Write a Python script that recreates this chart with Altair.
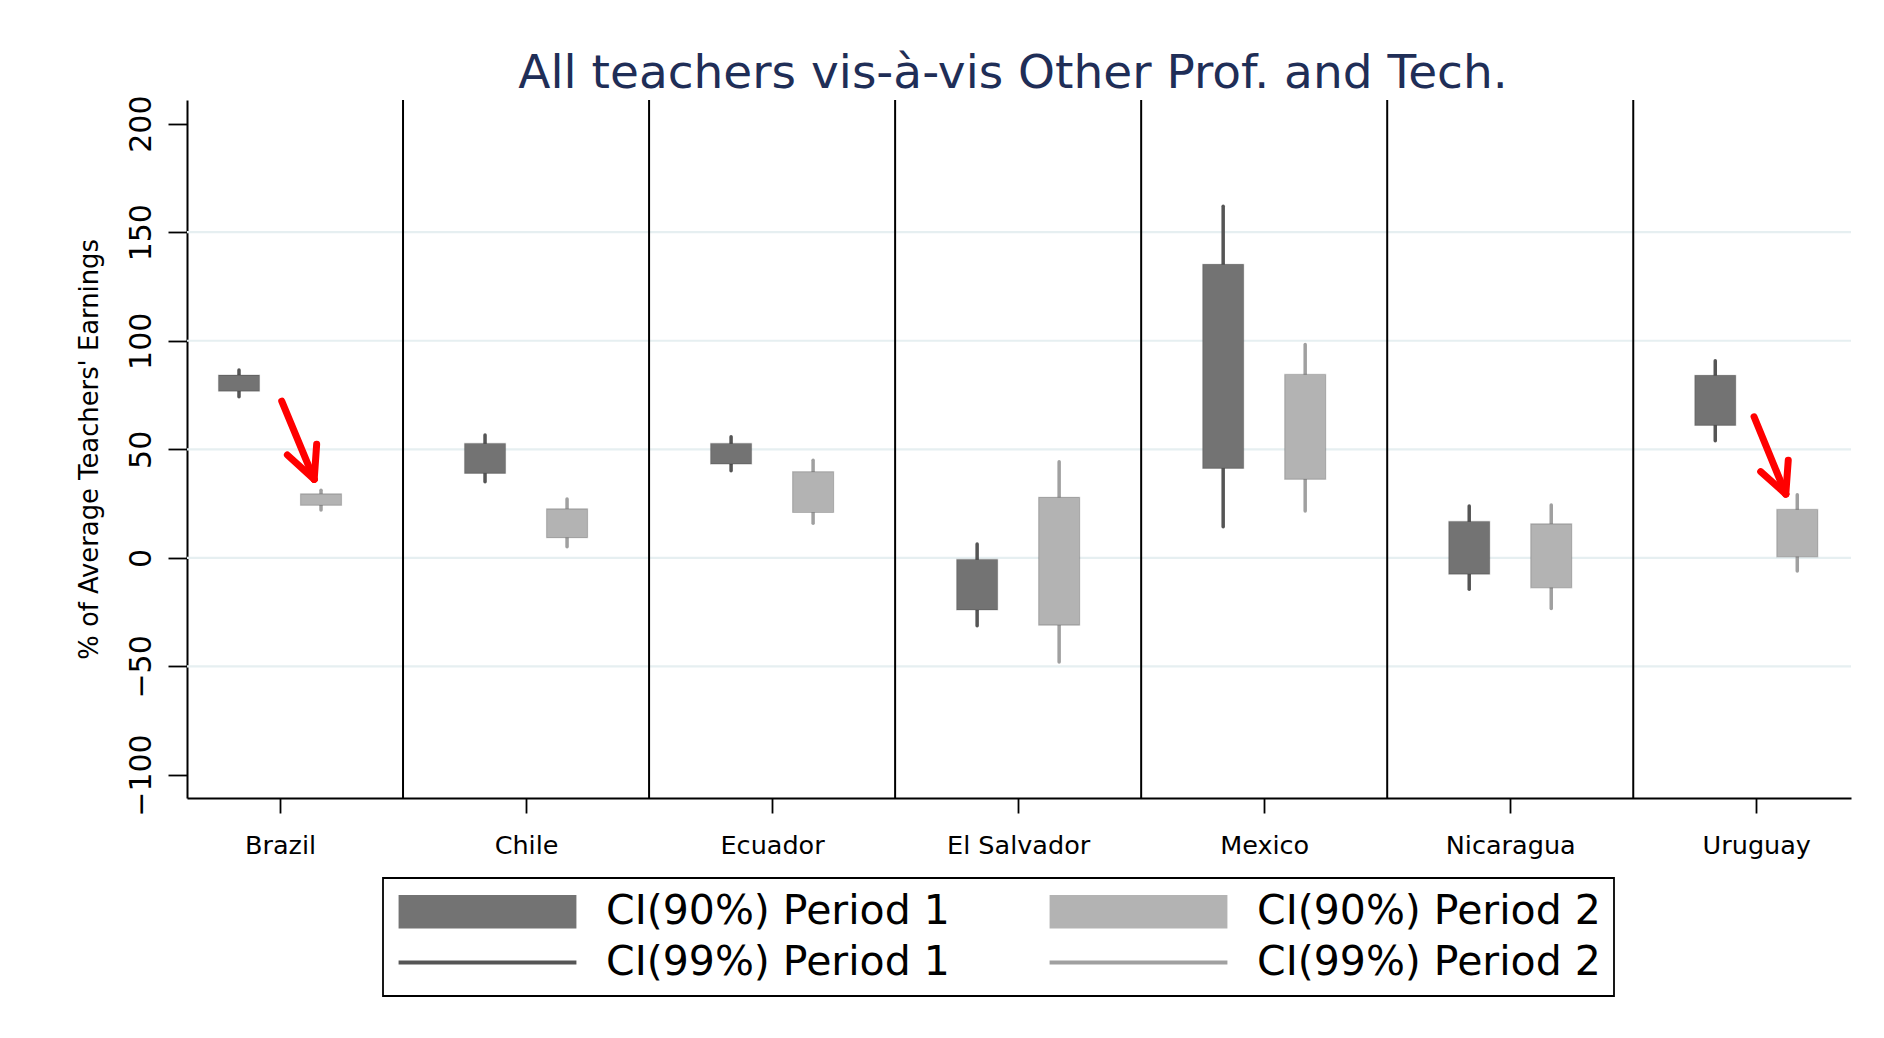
import altair as alt
import pandas as pd

# ---------------- data ----------------
COUNTRIES = ["Brazil", "Chile", "Ecuador", "El Salvador", "Mexico", "Nicaragua", "Uruguay"]

# Period 1 confidence intervals
P1_LO99 = [74.2, 35.1, 40.1, -31.3, 14.3, -14.5, 53.9]
P1_LO90 = [76.8, 38.9, 43.2, -24.0, 41.2, -7.5, 61.0]
P1_HI90 = [84.2, 52.7, 52.7, -0.7, 135.2, 16.8, 84.1]
P1_HI99 = [86.5, 56.6, 55.8, 6.4, 162.0, 23.9, 90.8]

# Period 2 confidence intervals
P2_LO99 = [22.0, 5.1, 15.9, -48.0, 21.6, -23.3, -6.1]
P2_LO90 = [24.2, 9.3, 20.9, -31.0, 36.2, -13.8, 0.5]
P2_HI90 = [29.5, 22.6, 39.7, 27.9, 84.5, 15.7, 22.3]
P2_HI99 = [31.2, 27.1, 45.0, 44.3, 98.3, 24.3, 29.1]

SERIES = ["CI(90%) Period 1", "CI(90%) Period 2", "CI(99%) Period 1", "CI(99%) Period 2"]
Y_TICKS = [-100, -50, 0, 50, 100, 150, 200]
GRID_VALUES = [-50, 0, 50, 100, 150]

# red annotation arrows (data coordinates): shaft start, tip, two wing ends
ARROW_START_X = [1.007, 6.991]
ARROW_START_Y = [72.2, 65.0]
ARROW_TIP_X = [1.139, 7.120]
ARROW_TIP_Y = [36.2, 29.4]
ARROW_WING1_X = [1.030, 7.018]
ARROW_WING1_Y = [47.4, 39.7]
ARROW_WING2_X = [1.149, 7.130]
ARROW_WING2_Y = [52.3, 45.0]

# ---------------- styling ----------------
FONT = "DejaVu Sans"
COLORS = ["#737373", "#b3b3b3", "#555555", "#a0a0a0"]
# legend swatches: symbol size 36x36 nominal, paths drawn wider than the unit box
SYM_SIDE = 36
RECT_PATH = "M-4.94,-0.93L4.94,-0.93L4.94,0.93L-4.94,0.93Z"
LINE_PATH = "M-4.94,-0.11L4.94,-0.11L4.94,0.11L-4.94,0.11Z"
SHAPES = [RECT_PATH, RECT_PATH, LINE_PATH, LINE_PATH]
SWATCH_W = 178
OFFSET = 1 / 6
HALF_W = 1 / 12

# ---------------- tables ----------------
rows = []
for i, c in enumerate(COUNTRIES):
    pos = i + 1
    for per, off, lo99, lo90, hi90, hi99 in [
        ("1", -OFFSET, P1_LO99[i], P1_LO90[i], P1_HI90[i], P1_HI99[i]),
        ("2", OFFSET, P2_LO99[i], P2_LO90[i], P2_HI90[i], P2_HI99[i]),
    ]:
        rows.append(dict(country=c, period=per, xc=pos + off,
                         x1=pos + off - HALF_W, x2=pos + off + HALF_W,
                         lo99=lo99, lo90=lo90, hi90=hi90, hi99=hi99,
                         s90=f"CI(90%) Period {per}", s99=f"CI(99%) Period {per}"))
box_df = pd.DataFrame(rows)

sep_df = pd.DataFrame({"s": [k + 0.5 for k in range(1, len(COUNTRIES))]})
grid_df = pd.DataFrame({"g": GRID_VALUES})

arrow_rows = []
for k in range(len(ARROW_TIP_X)):
    tx, ty = ARROW_TIP_X[k], ARROW_TIP_Y[k]
    for sx, sy in [(ARROW_START_X[k], ARROW_START_Y[k]),
                   (ARROW_WING1_X[k], ARROW_WING1_Y[k]),
                   (ARROW_WING2_X[k], ARROW_WING2_Y[k])]:
        arrow_rows.append(dict(x=sx, y=sy, x2=tx, y2=ty))
arrow_df = pd.DataFrame(arrow_rows)

# long table: one row per interval, used only to feed the legend
legend_df = pd.concat([
    box_df[["xc", "lo90", "s90"]].rename(columns={"lo90": "v", "s90": "series"}),
    box_df[["xc", "lo99", "s99"]].rename(columns={"lo99": "v", "s99": "series"}),
], ignore_index=True)

# ---------------- scales / axes ----------------
xscale = alt.Scale(domain=[0.622, 7.385], nice=False, zero=False)
yscale = alt.Scale(domain=[-110.6, 210.9], nice=False, zero=False)
color_scale = alt.Scale(domain=SERIES, range=COLORS)
fill_scale = alt.Scale(domain=SERIES[:2], range=COLORS[:2])
stroke_scale = alt.Scale(domain=SERIES[2:], range=COLORS[2:])

label_expr = "[" + ",".join("'" + c + "'" for c in COUNTRIES) + "][datum.value - 1]"

xaxis = alt.Axis(values=list(range(1, len(COUNTRIES) + 1)), labelExpr=label_expr,
                 title=None, tickSize=15, labelPadding=40, labelBaseline="alphabetic",
                 labelFontSize=25.5, labelFlush=False, labelOverlap=False, grid=False)

yaxis = alt.Axis(values=Y_TICKS, title="% of Average Teachers' Earnings",
                 labelAngle=270, labelAlign="center", labelBaseline="alphabetic",
                 labelPadding=18, tickSize=19, labelFontSize=30,
                 titleFont=FONT, titleFontSize=25.8, titleFontWeight="normal",
                 titleAngle=270, titleAlign="center", titleBaseline="alphabetic",
                 titleX=-90, titleY=349, grid=False, labelFlush=False, labelOverlap=False)

sym_shift = (SWATCH_W - SYM_SIDE) / 2
leg = alt.Legend(title=None, orient="none", legendX=196, legendY=778, columns=2,
                 direction="horizontal",
                 columnPadding=97, rowPadding=9, padding=13,
                 labelFont=FONT, labelFontSize=41, labelColor="black",
                 labelOffset=98, symbolOffset=sym_shift,
                 labelLimit=800, symbolSize=SYM_SIDE * SYM_SIDE, symbolStrokeWidth=0,
                 symbolOpacity=1, strokeColor="black")

# ---------------- layers ----------------
grid = alt.Chart(grid_df).mark_rule(color="#e6eff1", strokeWidth=2.2).encode(
    y=alt.Y("g:Q", scale=yscale, axis=yaxis))

sep = alt.Chart(sep_df).mark_rule(color="black", strokeWidth=2).encode(
    x=alt.X("s:Q", scale=xscale, axis=xaxis))

whisk = alt.Chart(box_df).mark_rule(strokeWidth=3.5, strokeCap="round").encode(
    x=alt.X("xc:Q", scale=xscale, axis=xaxis),
    y=alt.Y("lo99:Q", scale=yscale, axis=yaxis),
    y2="hi99:Q",
    stroke=alt.Stroke("s99:N", scale=stroke_scale, legend=None))

boxes = alt.Chart(box_df).mark_rect(stroke="#000000", strokeOpacity=0.18, strokeWidth=1.2).encode(
    x=alt.X("x1:Q", scale=xscale, axis=xaxis),
    x2="x2:Q",
    y=alt.Y("lo90:Q", scale=yscale, axis=yaxis),
    y2="hi90:Q",
    fill=alt.Fill("s90:N", scale=fill_scale, legend=None))

arrows = alt.Chart(arrow_df).mark_rule(color="#ff0000", strokeWidth=7, strokeCap="round").encode(
    x=alt.X("x:Q", scale=xscale, axis=xaxis),
    y=alt.Y("y:Q", scale=yscale, axis=yaxis),
    x2="x2:Q", y2="y2:Q")

# invisible points that carry the legend (colour + custom swatch shapes)
legend_layer = alt.Chart(legend_df).mark_point(
    filled=True, opacity=0, size=30).encode(
    x=alt.X("xc:Q", scale=xscale, axis=xaxis),
    y=alt.Y("v:Q", scale=yscale, axis=yaxis),
    color=alt.Color("series:N", scale=color_scale, legend=leg),
    shape=alt.Shape("series:N", scale=alt.Scale(domain=SERIES, range=SHAPES), legend=leg))

chart = alt.layer(grid, sep, whisk, boxes, arrows, legend_layer).properties(
    width=1664, height=698,
    title=alt.TitleParams(text="All teachers vis-à-vis Other Prof. and Tech.",
                          font=FONT, fontSize=47, fontWeight="normal", color="#1f2e57",
                          anchor="middle", frame="group", offset=3, dx=-6, dy=6),
    padding={"left": 179, "top": 92, "right": 25, "bottom": 230},
    autosize=alt.AutoSizeParams(type="none"),
).configure_view(strokeWidth=0).configure_axis(
    domainColor="black", domainWidth=2, tickColor="black", tickWidth=1.8,
    labelColor="black", labelFont=FONT, titleColor="black"
).configure_legend(strokeWidth=1.8)

chart.save("out.html", embed_options={"renderer": "svg", "actions": False})
